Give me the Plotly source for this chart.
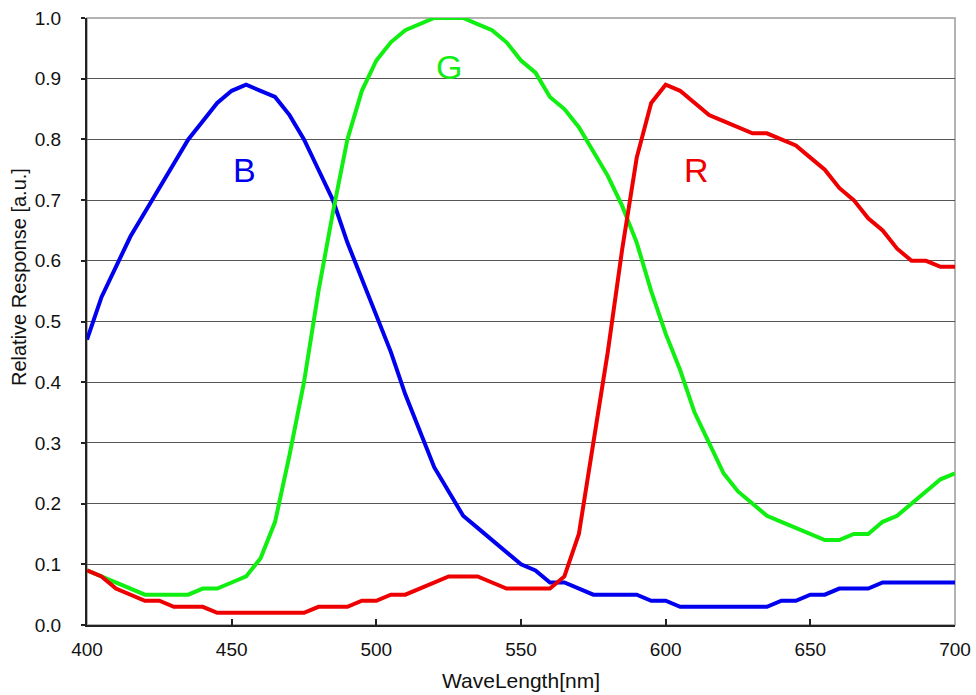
import plotly.graph_objects as go

wavelength = list(range(400, 701, 5))

blue = [0.47, 0.54, 0.59, 0.64, 0.68, 0.72, 0.76, 0.80, 0.83, 0.86,
        0.88, 0.89, 0.88, 0.87, 0.84, 0.80, 0.75, 0.70, 0.63, 0.57,
        0.51, 0.45, 0.38, 0.32, 0.26, 0.22, 0.18, 0.16, 0.14, 0.12,
        0.10, 0.09, 0.07, 0.07, 0.06, 0.05, 0.05, 0.05, 0.05, 0.04,
        0.04, 0.03, 0.03, 0.03, 0.03, 0.03, 0.03, 0.03, 0.04, 0.04,
        0.05, 0.05, 0.06, 0.06, 0.06, 0.07, 0.07, 0.07, 0.07, 0.07,
        0.07]

green = [0.09, 0.08, 0.07, 0.06, 0.05, 0.05, 0.05, 0.05, 0.06, 0.06,
         0.07, 0.08, 0.11, 0.17, 0.28, 0.40, 0.55, 0.68, 0.80, 0.88,
         0.93, 0.96, 0.98, 0.99, 1.00, 1.00, 1.00, 0.99, 0.98, 0.96,
         0.93, 0.91, 0.87, 0.85, 0.82, 0.78, 0.74, 0.69, 0.63, 0.55,
         0.48, 0.42, 0.35, 0.30, 0.25, 0.22, 0.20, 0.18, 0.17, 0.16,
         0.15, 0.14, 0.14, 0.15, 0.15, 0.17, 0.18, 0.20, 0.22, 0.24,
         0.25]

red = [0.09, 0.08, 0.06, 0.05, 0.04, 0.04, 0.03, 0.03, 0.03, 0.02,
       0.02, 0.02, 0.02, 0.02, 0.02, 0.02, 0.03, 0.03, 0.03, 0.04,
       0.04, 0.05, 0.05, 0.06, 0.07, 0.08, 0.08, 0.08, 0.07, 0.06,
       0.06, 0.06, 0.06, 0.08, 0.15, 0.30, 0.45, 0.62, 0.77, 0.86,
       0.89, 0.88, 0.86, 0.84, 0.83, 0.82, 0.81, 0.81, 0.80, 0.79,
       0.77, 0.75, 0.72, 0.70, 0.67, 0.65, 0.62, 0.60, 0.60, 0.59,
       0.59]

labels = ["B", "G", "R"]
label_x = [454.6, 525, 610.7]
label_y = [0.75, 0.92, 0.75]

x_title = "WaveLength[nm]"
y_title = "Relative Response [a.u.]"

colors = ["#0000EE", "#11EE11", "#EE0000"]
series = [blue, green, red]

FONT = "Liberation Sans, Arial, sans-serif"

fig = go.Figure()
for name, vals, col in zip(labels, series, colors):
    fig.add_trace(go.Scatter(x=wavelength, y=vals, mode="lines", name=name,
                             line=dict(color=col, width=4), showlegend=False))

for t, x, y, col in zip(labels, label_x, label_y, colors):
    fig.add_annotation(x=x, y=y, text=t, showarrow=False,
                       font=dict(family=FONT, size=34, color=col))

# axis titles placed as in the reference
fig.add_annotation(xref="paper", yref="paper", x=0.5, y=-0.092,
                   text=x_title, showarrow=False, xanchor="center", yanchor="middle",
                   font=dict(family=FONT, size=21, color="#111"))
fig.add_annotation(xref="paper", yref="paper", x=-0.079, y=0.574,
                   text=y_title, showarrow=False, textangle=-90,
                   xanchor="center", yanchor="middle",
                   font=dict(family=FONT, size=20, color="#111"))

fig.add_shape(type="rect", xref="paper", yref="paper", x0=0, x1=1, y0=0, y1=1,
              line=dict(color="#9a9a9a", width=1.5), layer="below")

fig.update_layout(
    width=976, height=695,
    margin=dict(l=87, r=21, t=18, b=70, autoexpand=False),
    paper_bgcolor="white", plot_bgcolor="white",
    font=dict(family=FONT, size=19, color="#111"),
    xaxis=dict(range=[400, 700], tickvals=list(range(400, 701, 50)),
               ticks="inside", ticklen=6, tickcolor="#222", tickwidth=1.5,
               showline=True, linecolor="#222", linewidth=2,
               showgrid=False, zeroline=False, automargin=False,
               tickfont=dict(size=19), ticklabelstandoff=6),
    yaxis=dict(range=[0, 1], dtick=0.1, tickformat=".1f",
               ticks="outside", ticklen=4, tickcolor="#222", tickwidth=1.5,
               showline=True, linecolor="#222", linewidth=2,
               showgrid=True, gridcolor="#555", gridwidth=1,
               zeroline=False, automargin=False,
               tickfont=dict(size=19), ticklabelstandoff=16),
)

fig.write_html("out.html")
